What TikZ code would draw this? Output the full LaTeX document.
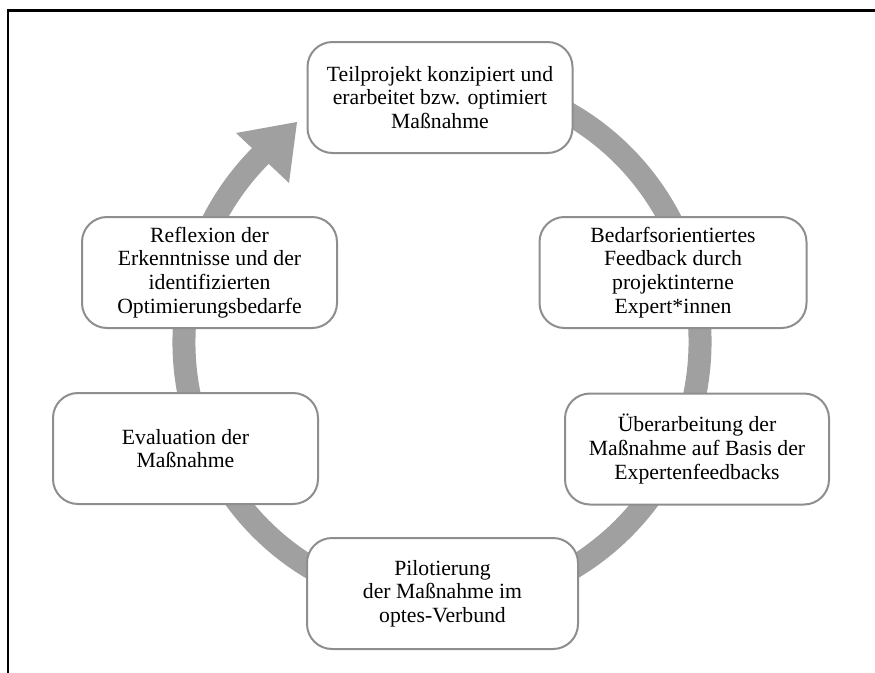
\documentclass[tikz,border=0pt]{standalone}
\usepackage{fontspec}
\setmainfont{Liberation Serif}
\definecolor{ringgray}{HTML}{A0A0A0}
\definecolor{boxgray}{HTML}{8E8E8E}
\begin{document}
\begin{tikzpicture}[x=1pt,y=-1pt,
  stage/.style={draw=boxgray, line width=2pt, fill=white, rounded corners=25pt,
    minimum width=265pt, minimum height=111pt, align=center, inner sep=0pt,
    font=\fontsize{21.7pt}{23.7pt}\selectfont},
  ring/.style={draw=ringgray, line width=23pt},
  ringhead/.style={fill=ringgray}]
\useasboundingbox (0,0) rectangle (875,672);
\clip (0,0) rectangle (875,672);
% frame around the figure
\draw[line width=2.5pt] (8,10.5) rectangle (900,700);
% the continuous cycle arrow behind the stages
\draw[ring] (486.8,84) arc[start angle=280, end angle=588, x radius=258, y radius=262];
\coordinate (tip) at (297,122);
\coordinate (barbL) at (236,133);
\coordinate (barbR) at (289,183);
\fill[ringhead] (tip) -- (barbL) -- (barbR) -- cycle;
% stages of the cycle
\node[stage] (teil) at (440,97.5) {Teilprojekt konzipiert und\\erarbeitet bzw. optimiert\\Maßnahme};
\node[stage, minimum width=267pt] (bedarf) at (673,272.5) {Bedarfsorientiertes\\Feedback durch\\projektinterne\\Expert*innen};
\node[stage, minimum width=264pt] (ueber) at (697,449) {Überarbeitung der\\Maßnahme auf Basis der\\Expertenfeedbacks};
\node[stage, minimum width=271pt] (pilot) at (442.5,593.5) {Pilotierung\\der Maßnahme im\\optes-Verbund};
\node[stage] (eval) at (185.5,448.5) {Evaluation der\\Maßnahme};
\node[stage, minimum width=255pt] (refl) at (209.5,272.5) {Reflexion der\\Erkenntnisse und der\\identifizierten\\Optimierungsbedarfe};
\end{tikzpicture}
\end{document}
